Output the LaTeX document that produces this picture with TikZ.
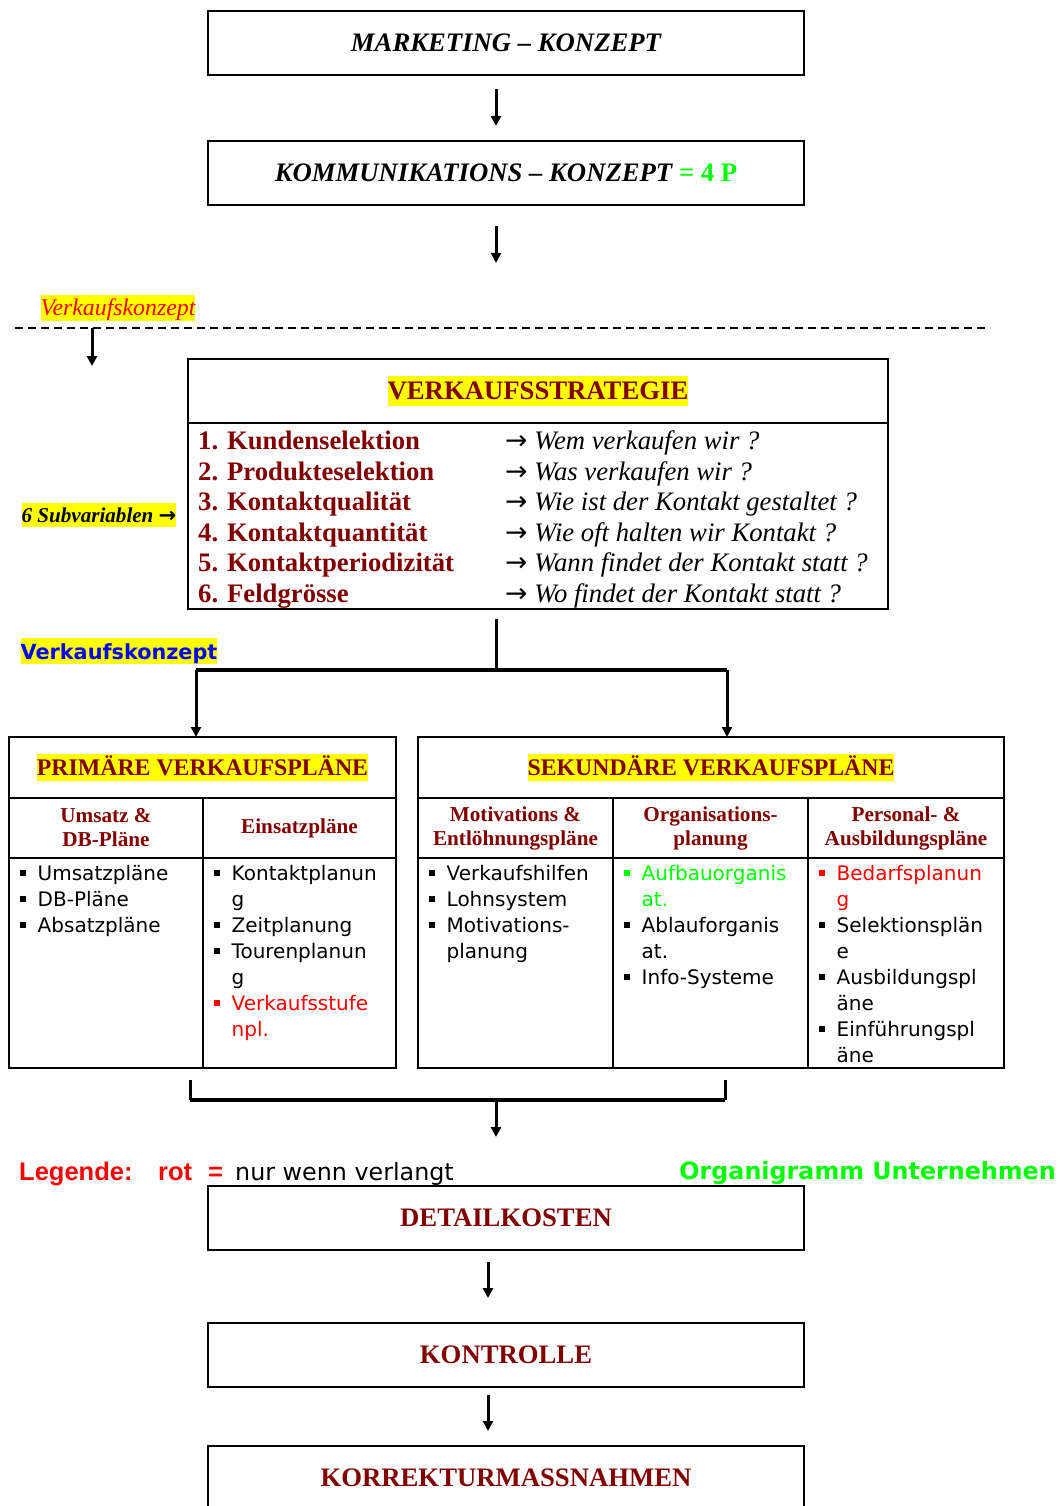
\documentclass[tikz,border=0pt]{standalone}
\usepackage{fontspec}
\usepackage{xcolor}
\usepackage{tikz}
\usetikzlibrary{arrows.meta}
\setmainfont{Liberation Serif}
\newfontfamily\vsans{DejaVu Sans}
\newfontfamily\asans{Liberation Sans}
\definecolor{weinrot}{RGB}{128,0,0}
\definecolor{gruen}{RGB}{0,255,0}
\definecolor{gelb}{RGB}{255,255,0}
\newcommand{\schriftA}{\fontsize{26.7}{31}\selectfont}
\newcommand{\schriftB}{\fontsize{23.8}{28}\selectfont}
\newcommand{\schriftC}{\fontsize{21.2}{24}\selectfont}
\newcommand{\listschrift}{\fontsize{20}{26}\selectfont}
\newcommand{\markstrut}{\rule[-0.22em]{0pt}{1.11em}}
\newcommand{\bl}{\makebox[19.5pt][l]{\hspace{2pt}\rule[4pt]{6pt}{6pt}}}
\newcommand{\wl}{\hspace*{19.5pt}}
\newcommand{\zeiger}{{\vsans\upshape →}}

\begin{document}
\begin{tikzpicture}[x=1pt, y=-1pt,
    kasten/.style={draw, line width=2pt, minimum width=596pt, minimum height=64pt, inner sep=0pt, outer sep=0pt, font=\schriftA\bfseries, text=weinrot},
    zelle/.style={draw, line width=2pt, inner sep=0pt, outer sep=0pt, anchor=north west},
    markiert/.style={fill=gelb, inner sep=0pt},
    pfeil/.style={line width=3pt, -{Triangle[length=10pt, width=10pt]}},
    balken/.style={line width=4.5pt},
    liste/.style={anchor=north west, inner sep=0pt, align=left, font=\vsans\listschrift},
    trenn/.style={line width=1.2pt, dash pattern=on 8pt off 5pt}]
    \useasboundingbox (0,0) rectangle (1059,1506);

    % Konzepte
    \node (mk) [kasten, font=\schriftA\bfseries\itshape, text=black] at (506,43) {MARKETING – KONZEPT};
    \node (kk) [kasten, font=\schriftA\bfseries\itshape, text=black] at (506,173) {KOMMUNIKATIONS – KONZEPT \textcolor{gruen}{\upshape = 4 P}};
    \coordinate (k1) at (496,263);
    \draw[pfeil, shorten <=14pt, shorten >=15pt] (mk.south -| k1) -- (kk.north -| k1);
    \draw[pfeil, shorten <=21pt] (kk.south -| k1) -- (k1);

    \node (vk1) [markiert, font=\fontsize{23.8}{28}\selectfont\itshape, text=red] at (118,308) {\markstrut Verkaufskonzept};
    \coordinate (t1) at (15,328);
    \coordinate (t2) at (990,328);
    \draw[trenn] (t1) -- (t2);
    \coordinate (t3) at (92,328);
    \coordinate (t4) at (92,366);
    \draw[pfeil] (t3) -- (t4);

    % Verkaufsstrategie
    \node (sk) [zelle, minimum width=700pt, minimum height=64pt] at (188,359) {};
    \node (sl) [zelle, minimum width=700pt, minimum height=186pt] at (188,423) {};
    \node (vs) [markiert, font=\schriftA\bfseries, text=weinrot] at (sk) {\markstrut VERKAUFSSTRATEGIE};
    \foreach \i/\y/\links/\rechts in {1/449/Kundenselektion/Wem verkaufen wir ?,
        2/480/Produkteselektion/Was verkaufen wir ?,
        3/510/Kontaktqualität/Wie ist der Kontakt gestaltet ?,
        4/541/Kontaktquantität/Wie oft halten wir Kontakt ?,
        5/571/Kontaktperiodizität/Wann findet der Kontakt statt ?,
        6/602/Feldgrösse/Wo findet der Kontakt statt ?}{
        \node (fr\i) [anchor=base west, inner sep=0pt, font=\schriftA\bfseries, text=weinrot] at (198,\y) {\i. \links};
        \node (an\i) [anchor=base west, inner sep=0pt, font=\schriftA\itshape] at (505,\y) {\zeiger\ \rechts};
    }
    \node (sv) [markiert, font=\fontsize{21.1}{24}\selectfont\bfseries\itshape] at (99,515) {\markstrut 6 Subvariablen {\bfseries\zeiger}};

    \node (vk2) [markiert, font=\vsans\bfseries\fontsize{20.8}{26}\selectfont, text=blue] at (119,651) {\rule[-0.21em]{0pt}{1.22em}Verkaufskonzept};
    \coordinate (b1) at (496,670);
    \coordinate (b2) at (196,670);
    \coordinate (b3) at (727,670);
    \draw[line width=3pt, shorten <=10pt] (sl.south -| b1) -- (b1);
    \draw[balken] (b2) -- (b3);

    % Primaere Plaene
    \node (ph) [zelle, minimum width=387pt, minimum height=61pt] at (9,737) {};
    \node (pht) [markiert, font=\schriftB\bfseries, text=weinrot] at (ph) {\markstrut PRIMÄRE VERKAUFSPLÄNE};
    \node (pu) [zelle, minimum width=194pt, minimum height=60pt, align=center, font=\schriftC\bfseries, text=weinrot] at (9,798) {Umsatz \&\\DB-Pläne};
    \node (pe) [zelle, minimum width=193pt, minimum height=60pt, font=\schriftC\bfseries, text=weinrot] at (203,798) {Einsatzpläne};
    \node (pb1) [zelle, minimum width=194pt, minimum height=210pt] at (9,858) {};
    \node (pb2) [zelle, minimum width=193pt, minimum height=210pt] at (203,858) {};
    \node (pl1) [liste] at ([xshift=9pt, yshift=-7pt]pb1.north west) {\bl Umsatzpläne\\ \bl DB-Pläne\\ \bl Absatzpläne};
    \node (pl2) [liste] at ([xshift=9pt, yshift=-7pt]pb2.north west) {\bl Kontaktplanun\\ \wl g\\ \bl Zeitplanung\\ \bl Tourenplanun\\ \wl g\\
        \textcolor{red}{\bl Verkaufsstufe}\\ \wl\textcolor{red}{npl.}};

    % Sekundaere Plaene
    \node (sh) [zelle, minimum width=586pt, minimum height=61pt] at (418,737) {};
    \node (sht) [markiert, font=\schriftB\bfseries, text=weinrot] at (sh) {\markstrut SEKUNDÄRE VERKAUFSPLÄNE};
    \node (sm) [zelle, minimum width=195pt, minimum height=60pt, align=center, font=\schriftC\bfseries, text=weinrot] at (418,798) {Motivations \&\\Entlöhnungspläne};
    \node (so) [zelle, minimum width=195pt, minimum height=60pt, align=center, font=\schriftC\bfseries, text=weinrot] at (613,798) {Organisations-\\planung};
    \node (sp) [zelle, minimum width=196pt, minimum height=60pt, align=center, font=\schriftC\bfseries, text=weinrot] at (808,798) {Personal- \&\\Ausbildungspläne};
    \node (sb1) [zelle, minimum width=195pt, minimum height=210pt] at (418,858) {};
    \node (sb2) [zelle, minimum width=195pt, minimum height=210pt] at (613,858) {};
    \node (sb3) [zelle, minimum width=196pt, minimum height=210pt] at (808,858) {};
    \node (sl1) [liste] at ([xshift=9pt, yshift=-7pt]sb1.north west) {\bl Verkaufshilfen\\ \bl Lohnsystem\\ \bl Motivations-\\ \wl planung};
    \node (sl2) [liste] at ([xshift=9pt, yshift=-7pt]sb2.north west) {\textcolor{gruen}{\bl Aufbauorganis}\\ \wl\textcolor{gruen}{at.}\\
        \bl Ablauforganis\\ \wl at.\\ \bl Info-Systeme};
    \node (sl3) [liste] at ([xshift=9pt, yshift=-7pt]sb3.north west) {\textcolor{red}{\bl Bedarfsplanun}\\ \wl\textcolor{red}{g}\\
        \bl Selektionsplän\\ \wl e\\ \bl Ausbildungspl\\ \wl äne\\ \bl Einführungspl\\ \wl äne};

    \draw[pfeil] (b2) -- (ph.north -| b2);
    \draw[pfeil] (b3) -- (sh.north -| b3);

    % Zusammenfuehrung
    \coordinate (u1) at (190,1080);
    \coordinate (u2) at (190,1100);
    \coordinate (u3) at (725,1100);
    \coordinate (u4) at (725,1080);
    \coordinate (u5) at (496,1100);
    \coordinate (u6) at (496,1137);
    \draw[line width=3pt] (u1) -- (u2);
    \draw[line width=3pt] (u4) -- (u3);
    \draw[balken] (u2) -- (u3);
    \draw[pfeil] (u5) -- (u6);

    % Legende
    \node (leg) [anchor=base west, inner sep=0pt, font=\vsans\fontsize{23.8}{28}\selectfont] at (19,1180)
        {\textcolor{red}{\asans\bfseries\fontsize{25.5}{28}\selectfont\makebox[139pt][l]{Legende:}\makebox[50pt][l]{rot}\makebox[27pt][l]{=}}nur wenn verlangt};
    \node (org) [anchor=base east, inner sep=0pt, font=\vsans\bfseries\fontsize{23.8}{28}\selectfont, text=gruen] at (1056,1179) {Organigramm Unternehmen};

    % Kosten und Kontrolle
    \node (dk) [kasten] at (506,1218) {DETAILKOSTEN};
    \node (ko) [kasten] at (506,1355) {KONTROLLE};
    \node (kr) [kasten] at (506,1478) {KORREKTURMASSNAHMEN};
    \coordinate (m1) at (488,1300);
    \draw[pfeil, shorten <=12pt, shorten >=25pt] (dk.south -| m1) -- (ko.north -| m1);
    \draw[pfeil, shorten <=8pt, shorten >=15pt] (ko.south -| m1) -- (kr.north -| m1);
\end{tikzpicture}
\end{document}
